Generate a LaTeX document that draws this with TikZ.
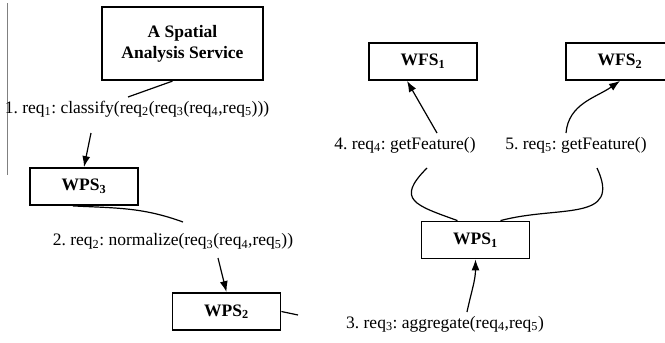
\documentclass[tikz,border=0pt]{standalone}
\usepackage{fontspec}
\setmainfont{Liberation Serif}
\usetikzlibrary{arrows.meta}
\newcommand{\req}[1]{req\textsubscript{#1}}
\frenchspacing

\begin{document}
\begin{tikzpicture}[x=1pt, y=1pt,
  every node/.style={font=\fontsize{17.5}{21}\selectfont},
  box/.style={draw, line width=1.8pt, minimum width=108pt, minimum height=37pt,
    font=\fontsize{17.5}{21}\selectfont\bfseries},
  link/.style={line width=1.2pt},
  arr/.style={line width=1.2pt, -{Latex[length=11pt,width=8pt]}}]
  \clip (0,0) rectangle (665,-343);

  % Page edge
  \draw[gray, line width=0.8pt] (7,-3) -- (7,-175);

  % Services
  \node[box, minimum width=161pt, minimum height=73pt, align=center, line width=2.2pt]
    (svc) at (182.5,-43.5) {A Spatial\\Analysis Service};
  \node[box] (wps3) at (84,-186.5) {WPS\textsubscript{3}};
  \node[box] (wps2) at (226.5,-311.5) {WPS\textsubscript{2}};
  \node[box] (wps1) at (475.5,-240) {WPS\textsubscript{1}};
  \node[box] (wfs1) at (423,-61.5) {WFS\textsubscript{1}};
  \node[box] (wfs2) at (620,-61.5) {WFS\textsubscript{2}};

  % Requests
  \node (l1) at (137,-109) {1. \req{1}: classify(\req{2}(\req{3}(\req{4},\req{5})))};
  \node (l2) at (173,-241.5) {2. \req{2}: normalize(\req{3}(\req{4},\req{5}))};
  \node (l3) at (445,-324) {3. \req{3}: aggregate(\req{4},\req{5})};
  \node (l4) at (405,-145) {4. \req{4}: getFeature()};
  \node (l5) at (576,-145) {5. \req{5}: getFeature()};

  % Loose ends
  \coordinate (a1) at (128,-97);
  \coordinate (b1) at (91,-133);
  \coordinate (a2) at (183,-222);
  \coordinate (b2) at (218,-258);
  \coordinate (a3) at (298,-315);
  \coordinate (b3) at (467,-312);
  \coordinate (a4) at (427,-168);
  \coordinate (b4) at (437,-133);
  \coordinate (a5) at (597,-168);
  \coordinate (b5) at (566,-133);

  % Left chain
  \draw[link] ([xshift=-10pt]svc.south) -- (a1);
  \draw[arr] (b1) -- (wps3.north);
  \draw[link] ([xshift=-11pt]wps3.south) to[out=-3, in=160] (a2);
  \draw[arr] (b2) -- (wps2.north);
  \draw[link] (wps2.east) -- (a3);

  % Right part
  \draw[arr] (b3) to[out=78, in=-90] (wps1.south);
  \draw[link] ([xshift=-18pt]wps1.north) to[out=160, in=-135, looseness=1.9] (a4);
  \draw[link] ([xshift=25pt]wps1.north) to[out=15, in=-65, looseness=1.4] (a5);
  \draw[arr] (b4) -- ([xshift=-16pt]wfs1.south);
  \draw[arr] (b5) to[out=85, in=-145] (wfs2.south);
\end{tikzpicture}
\end{document}
